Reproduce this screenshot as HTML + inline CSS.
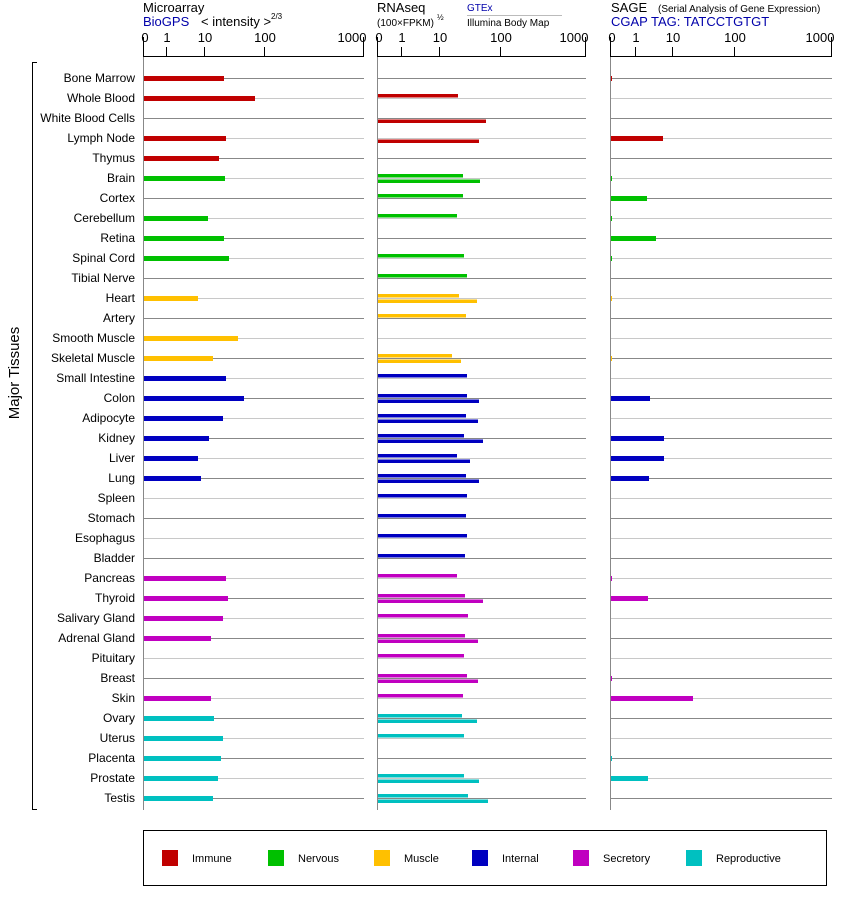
<!DOCTYPE html>
<html><head><meta charset="utf-8"><style>
body{margin:0;background:#fff}
svg{font-family:"Liberation Sans",Arial,sans-serif}
</style></head><body>
<svg id="s" width="842" height="900" xmlns="http://www.w3.org/2000/svg">
<g font-size="13" fill="#000">
<text x="143" y="12">Microarray</text>
<text x="143" y="26" fill="#00a">BioGPS</text>
<text x="201" y="26">&lt; intensity &gt;</text>
<text x="271" y="19" font-size="8">2/3</text>
<text x="377" y="12">RNAseq</text>
<text x="377" y="26" font-size="10">(100×FPKM)</text>
<text x="437" y="20" font-size="8">½</text>
<text x="467" y="11" font-size="10" fill="#00a">GTEx</text>
<line x1="467" y1="15.5" x2="562" y2="15.5" stroke="#bbb"/>
<text x="467" y="26" font-size="10">Illumina Body Map</text>
<text x="611" y="12">SAGE</text>
<text x="658" y="12" font-size="10">(Serial Analysis of Gene Expression)</text>
<text x="611" y="26" fill="#00a">CGAP TAG: TATCCTGTGT</text>
</g>
<line x1="32.5" y1="62" x2="32.5" y2="810" stroke="#000"/>
<line x1="32" y1="62.5" x2="37" y2="62.5" stroke="#000"/>
<line x1="32" y1="809.5" x2="37" y2="809.5" stroke="#000"/>
<text transform="translate(19,373) rotate(-90)" font-size="15" text-anchor="middle">Major Tissues</text>
<rect x="143.5" y="830.5" width="683" height="55" fill="none" stroke="#000"/>
<g id="g"></g>
</svg>
<script>
var S='http://www.w3.org/2000/svg',g=document.getElementById('g');
function el(t,a,txt){var e=document.createElementNS(S,t);for(var k in a)e.setAttribute(k,a[k]);if(txt)e.textContent=txt;g.appendChild(e);return e;}
var C={I:'#c00000',N:'#00c000',M:'#ffc000',T:'#0000c0',S:'#c000c0',R:'#00c0c0'};
var rows=[
['Bone Marrow','I',224,0,0,612],['Whole Blood','I',255,458,0,0],['White Blood Cells','I',0,0,486,0],['Lymph Node','I',226,0,479,663],['Thymus','I',219,0,0,0],
['Brain','N',225,463,480,612],['Cortex','N',0,463,0,647],['Cerebellum','N',208,457,0,612],['Retina','N',224,0,0,656],['Spinal Cord','N',229,464,0,612],['Tibial Nerve','N',0,467,0,0],
['Heart','M',198,459,477,612],['Artery','M',0,466,0,0],['Smooth Muscle','M',238,0,0,0],['Skeletal Muscle','M',213,452,461,612],
['Small Intestine','T',226,467,0,0],['Colon','T',244,467,479,650],['Adipocyte','T',223,466,478,0],['Kidney','T',209,464,483,664],['Liver','T',198,457,470,664],['Lung','T',201,466,479,649],['Spleen','T',0,467,0,0],['Stomach','T',0,466,0,0],['Esophagus','T',0,467,0,0],['Bladder','T',0,465,0,0],
['Pancreas','S',226,457,0,612],['Thyroid','S',228,465,483,648],['Salivary Gland','S',223,468,0,0],['Adrenal Gland','S',211,465,478,0],['Pituitary','S',0,464,0,0],['Breast','S',0,467,478,612],['Skin','S',211,463,0,693],
['Ovary','R',214,462,477,0],['Uterus','R',223,464,0,0],['Placenta','R',221,0,0,612],['Prostate','R',218,464,479,648],['Testis','R',213,468,488,0]];
var panels=[[143.5,364,[144,167,205,265,364]],[377.5,586,[378,402,440,501,586]],[610.5,832,[611,636,673,735,832]]];
var lab=['0','1','10','100','1000'];
panels.forEach(function(p){
 el('line',{x1:p[0],y1:57,x2:p[0],y2:810,stroke:'#888'});
 el('line',{x1:p[0],y1:56.5,x2:p[1],y2:56.5,stroke:'#000'});
 p[2].forEach(function(x,i){var xx=(i==0?p[0]:x-0.5);el('line',{x1:xx,y1:i==0||i==4?37:47,x2:xx,y2:57,stroke:'#000'});
  el('text',{x:i==0?x+1:(i==4?x-12:x),y:42,'font-size':'13','text-anchor':'middle'},lab[i]);});
});
rows.forEach(function(r,i){
 var y=78+20*i,col=C[r[1]],lc=i%2?'#c8c8c8':'#888';
 el('text',{x:135,y:y+4,'font-size':'12','text-anchor':'end'},r[0]);
 panels.forEach(function(p){el('line',{x1:p[0]+0.5,y1:y+0.5,x2:p[1],y2:y+0.5,stroke:lc});});
 if(r[2])el('rect',{x:144,y:y-2,width:r[2]-144,height:5,fill:col});
 if(r[3])el('rect',{x:378,y:y-4,width:r[3]-378,height:3.5,fill:col});
 if(r[4])el('rect',{x:378,y:y+1.5,width:r[4]-378,height:3.5,fill:col});
 if(r[5])el('rect',{x:611,y:y-2,width:r[5]-611,height:5,fill:col});
});
var L=[['Immune','I',162],['Nervous','N',268],['Muscle','M',374],['Internal','T',472],['Secretory','S',573],['Reproductive','R',686]];
L.forEach(function(l){el('rect',{x:l[2],y:850,width:16,height:16,fill:C[l[1]]});el('text',{x:l[2]+30,y:862,'font-size':'11'},l[0]);});
</script>
</body></html>
